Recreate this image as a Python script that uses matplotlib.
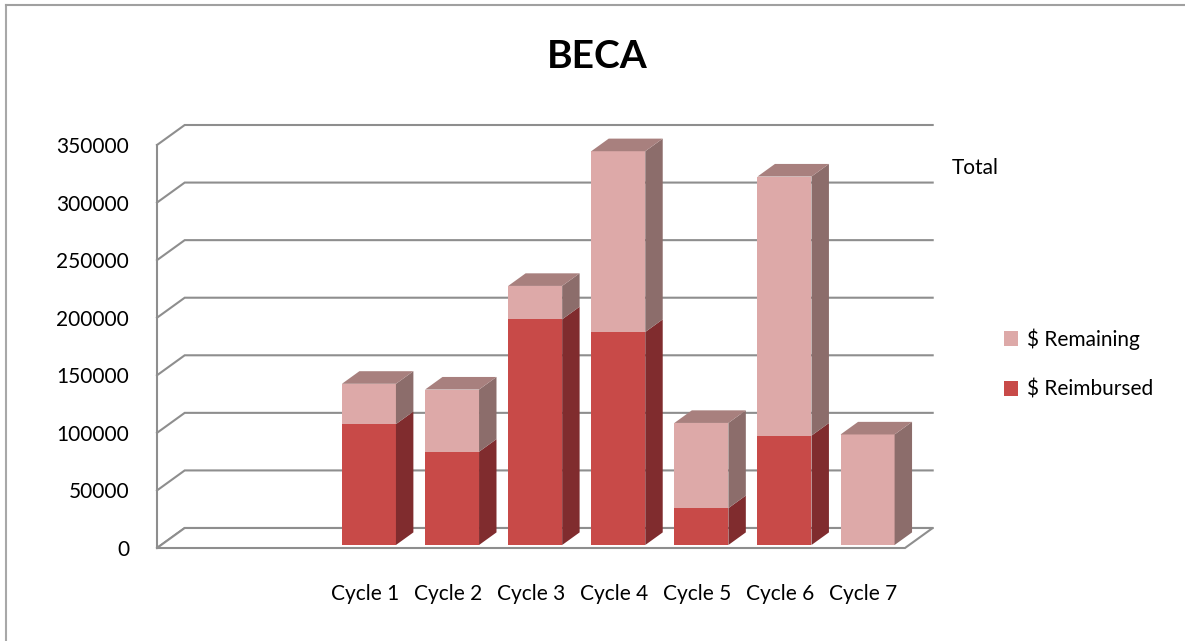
import matplotlib
matplotlib.use("Agg")
import matplotlib.pyplot as plt
from matplotlib.patches import Polygon, Patch
from matplotlib.lines import Line2D

# chart data (first two slots are empty in the source chart)
categories = ['', '', 'Cycle 1', 'Cycle 2', 'Cycle 3', 'Cycle 4', 'Cycle 5', 'Cycle 6', 'Cycle 7']
reimbursed = [0, 0, 105000, 81000, 196000, 185000, 32000, 95000, 0]
remaining = [0, 0, 35000, 54000, 29000, 157000, 74000, 225000, 96000]
y_ticks = [0, 50000, 100000, 150000, 200000, 250000, 300000, 350000]

# colours
c_reimb = '#c84a48'
c_reimb_side = '#802c2e'
c_remain = '#dda9a8'
c_remain_side = '#8c6d6b'
c_remain_top = '#a8807e'
c_grid = '#8e8e8e'
font = 'Lato'

W, H = 1185, 641
fig = plt.figure(figsize=(W / 100, H / 100), dpi=100)
ax = fig.add_axes([157 / W, (H - 548) / H, 748 / W, 403 / H])
ax.set_xlim(-0.5, len(categories) - 0.5)
ax.set_ylim(0, 350000)
for s in ax.spines.values():
    s.set_visible(False)

# depth vector of the 3d box, from pixels to data units
p0 = ax.transData.transform((0, 0))
p1 = ax.transData.transform((1, 100000))
sx = p1[0] - p0[0]
sy = (p1[1] - p0[1]) / 100000
dx = 27.7 / sx
dy = 20 / sy
xmin, xmax = ax.get_xlim()

# floor
floor = Polygon([(xmin, 0), (xmax, 0), (xmax + dx, dy), (xmin + dx, dy)],
                closed=True, facecolor='white', edgecolor=c_grid, lw=1.5,
                zorder=1, clip_on=False)
ax.add_patch(floor)

# gridlines on left and back walls
for v in y_ticks:
    ax.plot([xmin, xmin + dx, xmax + dx], [v, v + dy, v + dy],
            color=c_grid, lw=1.5, zorder=0.5, clip_on=False, solid_joinstyle='miter')
ax.plot([xmin, xmin], [0, y_ticks[-1]], color=c_grid, lw=1.5, zorder=0.5, clip_on=False)

# bars
bw = 54 / sx
f0 = 0.15
fd = 0.63
x = list(range(len(categories)))
bx = [i + f0 * dx for i in x]
by = f0 * dy
ax.bar(bx, reimbursed, width=bw, bottom=by, color=c_reimb, zorder=2)
ax.bar(bx, remaining, width=bw, bottom=[by + r for r in reimbursed], color=c_remain, zorder=2)

ddx, ddy = fd * dx, fd * dy
for i in x:
    xr = bx[i] + bw / 2
    xl = bx[i] - bw / 2
    segs = [(by, by + reimbursed[i], c_reimb_side),
            (by + reimbursed[i], by + reimbursed[i] + remaining[i], c_remain_side)]
    for y0, y1, col in segs:
        if y1 > y0:
            ax.add_patch(Polygon([(xr, y0), (xr + ddx, y0 + ddy), (xr + ddx, y1 + ddy), (xr, y1)],
                                 closed=True, facecolor=col, edgecolor='none',
                                 zorder=2, clip_on=False))
    top = by + reimbursed[i] + remaining[i]
    if top > by:
        ax.add_patch(Polygon([(xl, top), (xr, top), (xr + ddx, top + ddy), (xl + ddx, top + ddy)],
                             closed=True, facecolor=c_remain_top, edgecolor='none',
                             zorder=2, clip_on=False))

# ticks
ax.set_yticks(y_ticks)
ax.set_yticklabels([str(v) for v in y_ticks], fontsize=15, family=font)
ax.set_xticks(x)
ax.set_xticklabels(categories, fontsize=15, family=font)
ax.tick_params(axis='y', length=0, pad=20)
ax.tick_params(axis='x', length=0, pad=26)

# title and side texts
fig.text(597 / W, 1 - 57 / H, 'BECA', ha='center', va='center',
         fontsize=28, fontweight='bold', family=font)
fig.text(952 / W, 1 - 168 / H, 'Total', ha='left', va='center', fontsize=15, family=font)

handles = [Patch(facecolor=c_remain, edgecolor='none'), Patch(facecolor=c_reimb, edgecolor='none')]
fig.legend(handles, ['$ Remaining', '$ Reimbursed'], loc='center left',
           bbox_to_anchor=(985 / W, 1 - 364 / H), frameon=False,
           prop={'family': font, 'size': 15}, handlelength=0.68, handleheight=0.68,
           handletextpad=0.45, labelspacing=1.45)

# chart area border (top and left only visible)
fig.add_artist(Line2D([5.5 / W, 5.5 / W], [0, 1 - 4.5 / H], color='#a8a8a8', lw=1.5))
fig.add_artist(Line2D([5.5 / W, 1], [1 - 4.5 / H, 1 - 4.5 / H], color='#a0a0a0', lw=1.5))

fig.savefig('out.png', dpi=100)
